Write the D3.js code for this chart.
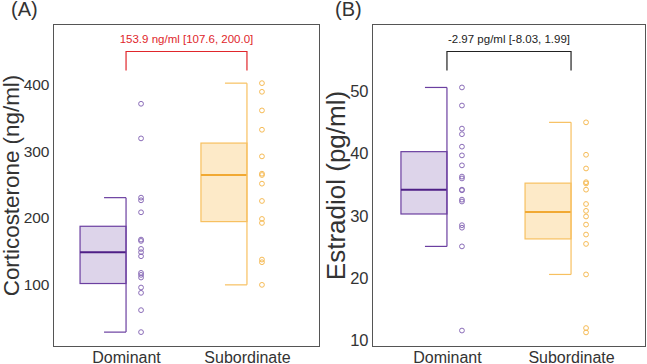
<!DOCTYPE html>
<html>
<head>
<meta charset="utf-8">
<title>Corticosterone and Estradiol by rank</title>
<script src="https://cdn.jsdelivr.net/npm/d3@7"></script>
<style>
  body { margin: 0; background: white; }
  svg { display: block; font-family: "Liberation Sans", Arial, sans-serif; }
</style>
</head>
<body>
<script>
// ---- data ----
let groups = ["Dominant", "Subordinate"]

// (A) corticosterone, ng/ml
let cortDominant = [371, 319, 230, 226, 208, 167, 165, 153, 148, 142, 117, 114, 110, 95, 87, 61, 28]
let cortSubordinate = [402, 389, 361, 332, 292, 266, 264, 251, 225, 198, 192, 137, 133, 99]
// box stats: [lower whisker, q1, median, q3, upper whisker]
let cortBoxDominant = [28, 101, 148, 187, 230]
let cortBoxSubordinate = [99, 194, 264, 312, 402]
let cortTicks = [100, 200, 300, 400]
let cortLabel = "153.9 ng/ml [107.6, 200.0]"

// (B) estradiol, pg/ml
let estDominant = [50.6, 47.7, 44.0, 43.1, 41.1, 39.7, 38.1, 36.3, 36.0, 34.2, 34.1, 32.6, 32.3, 28.5, 28.1, 25.1, 11.6]
let estSubordinate = [45.0, 39.8, 37.6, 35.4, 35.2, 34.2, 31.9, 30.8, 29.9, 28.6, 27.0, 25.5, 20.6, 12.0, 11.3]
let estBoxDominant = [25.1, 30.3, 34.2, 40.3, 50.6]
let estBoxSubordinate = [20.6, 26.3, 30.6, 35.25, 45.0]
let estTicks = [10, 20, 30, 40, 50]
let estLabel = "-2.97 pg/ml [-8.03, 1.99]"

let width = 647
let height = 364

let colors = {
    Dominant: { stroke: "#6b3fa0", fill: "#ddd4ea", median: "#4e1f86", point: "#8a6cb8" },
    Subordinate: { stroke: "#f7c060", fill: "#fdeac8", median: "#f1a933", point: "#f6bb55" }
}

let svg = d3.select("body")
            .append("svg")
            .attr("width", width)
            .attr("height", height)

let drawPanel = (opt) => {
    let x = d3.scalePoint()
              .domain(groups)
              .range([opt.left, opt.right])
              .padding(0.6)

    let y = d3.scaleLinear()
              .domain(opt.domain)
              .range([opt.bottom, opt.top])

    let g = svg.append("g")

    // frame
    g.append("rect")
     .attr("x", opt.left)
     .attr("y", opt.top)
     .attr("width", opt.right - opt.left)
     .attr("height", opt.bottom - opt.top)
     .attr("fill", "none")
     .attr("stroke", "#555")
     .attr("stroke-width", 1)

    // y axis, ticks hidden
    let yAxis = g.append("g")
                 .attr("transform", `translate(${opt.left},0)`)
                 .call(d3.axisLeft(y).tickValues(opt.ticks).tickSize(0).tickPadding(4))
    yAxis.select(".domain").remove()
    yAxis.selectAll("text")
         .attr("font-size", opt.tickSize)
         .attr("font-family", "Liberation Sans, Arial, sans-serif")
         .attr("fill", "#333")

    // x labels
    let xAxis = g.append("g")
                 .attr("transform", `translate(0,${opt.bottom})`)
                 .call(d3.axisBottom(x).tickSize(0).tickPadding(5))
    xAxis.select(".domain").remove()
    xAxis.selectAll("text")
         .attr("font-size", 16)
         .attr("font-family", "Liberation Sans, Arial, sans-serif")
         .attr("fill", "#333")

    // y title
    g.append("text")
     .attr("transform", `translate(${opt.titleX},${(opt.top + opt.bottom) / 2}) rotate(-90)`)
     .attr("text-anchor", "middle")
     .attr("font-size", opt.titleSize)
     .attr("fill", "#333")
     .text(opt.title)

    // panel letter
    g.append("text")
     .attr("x", opt.letterX)
     .attr("y", 16)
     .attr("font-size", 20)
     .attr("fill", "#333")
     .text(opt.letter)

    // half boxes: box on the left of the centre, whisker on the centre line
    let boxW = 46
    let capW = 22
    groups.forEach((name, i) => {
        let s = opt.boxes[i]
        let c = colors[name]
        let cx = x(name)
        g.append("rect")
         .attr("x", cx - boxW)
         .attr("y", y(s[3]))
         .attr("width", boxW)
         .attr("height", y(s[1]) - y(s[3]))
         .attr("fill", c.fill)
         .attr("stroke", c.stroke)
         .attr("stroke-width", 1.2)
        g.append("line")
         .attr("x1", cx - boxW).attr("x2", cx)
         .attr("y1", y(s[2])).attr("y2", y(s[2]))
         .attr("stroke", c.median)
         .attr("stroke-width", 2)
        g.append("line")
         .attr("x1", cx).attr("x2", cx)
         .attr("y1", y(s[0])).attr("y2", y(s[4]))
         .attr("stroke", c.stroke)
         .attr("stroke-width", 1.2)
        ;[s[0], s[4]].forEach((v) => {
            g.append("line")
             .attr("x1", cx - capW).attr("x2", cx)
             .attr("y1", y(v)).attr("y2", y(v))
             .attr("stroke", c.stroke)
             .attr("stroke-width", 1.2)
        })

        g.selectAll(null)
         .data(opt.points[i])
         .enter()
         .append("circle")
         .attr("cx", cx + 15)
         .attr("cy", (d) => y(d))
         .attr("r", 2.4)
         .attr("fill", "none")
         .attr("stroke", c.point)
         .attr("stroke-width", 1)
    })

    // difference bracket
    let bx1 = x(groups[0])
    let bx2 = x(groups[1])
    g.append("path")
     .attr("d", `M${bx1},70.5 V51.5 H${bx2} V70.5`)
     .attr("fill", "none")
     .attr("stroke", opt.bracketColor)
     .attr("stroke-width", 1.2)
    g.append("text")
     .attr("x", (bx1 + bx2) / 2)
     .attr("y", 43)
     .attr("text-anchor", "middle")
     .attr("font-size", 11.5)
     .attr("fill", opt.bracketColor)
     .text(opt.bracketText)
}

drawPanel({
    left: 53.5, right: 319.5, top: 24.5, bottom: 346.5,
    domain: [6.4, 490.1],
    ticks: cortTicks, tickSize: 15.5,
    title: "Corticosterone (ng/ml)", titleSize: 22.4, titleX: 18.5,
    letter: "(A)", letterX: 11,
    boxes: [cortBoxDominant, cortBoxSubordinate],
    points: [cortDominant, cortSubordinate],
    bracketColor: "#e0262b", bracketText: cortLabel
})

drawPanel({
    left: 372.5, right: 645.5, top: 24.5, bottom: 346.5,
    domain: [9.04, 60.7],
    ticks: estTicks, tickSize: 16.5,
    title: "Estradiol (pg/ml)", titleSize: 26, titleX: 345,
    letter: "(B)", letterX: 335,
    boxes: [estBoxDominant, estBoxSubordinate],
    points: [estDominant, estSubordinate],
    bracketColor: "#222", bracketText: estLabel
})
</script>
</body>
</html>
